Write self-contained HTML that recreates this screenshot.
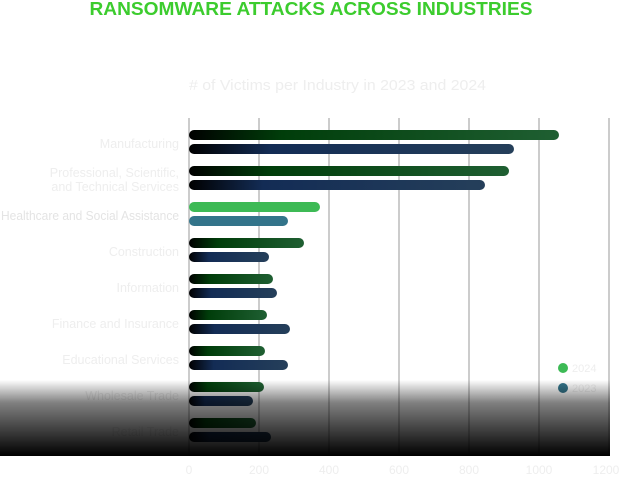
<!DOCTYPE html>
<html><head><style>
html,body{margin:0;padding:0;background:#fff;}
svg{display:block;font-family:"Liberation Sans",sans-serif;}
</style></head><body>
<svg width="622" height="477" viewBox="0 0 622 477">
<defs>
<linearGradient id="g" x1="0" x2="1" y1="0" y2="0">
<stop offset="0" stop-color="#000"/><stop offset="0.25" stop-color="#003d0a"/><stop offset="1" stop-color="#1f5f32"/>
</linearGradient>
<linearGradient id="b" x1="0" x2="1" y1="0" y2="0">
<stop offset="0" stop-color="#000"/><stop offset="0.25" stop-color="#132c55"/><stop offset="1" stop-color="#253f5a"/>
</linearGradient>
<linearGradient id="fade" x1="0" x2="0" y1="0" y2="1">
<stop offset="0" stop-color="#000" stop-opacity="0"/><stop offset="0.3" stop-color="#000" stop-opacity="0.5"/><stop offset="1" stop-color="#000" stop-opacity="1"/>
</linearGradient>
</defs>
<text x="311" y="15" text-anchor="middle" font-size="18" font-weight="bold" fill="#3ccc2e" textLength="443" lengthAdjust="spacingAndGlyphs">RANSOMWARE ATTACKS ACROSS INDUSTRIES</text>
<text x="189" y="90" font-size="15" fill="#eeeeee" textLength="297" lengthAdjust="spacingAndGlyphs"># of Victims per Industry in 2023 and 2024</text>
<g stroke="#cccccc" stroke-width="2">
<line x1="189" y1="118" x2="189" y2="455"/>
<line x1="259" y1="118" x2="259" y2="455"/>
<line x1="329" y1="118" x2="329" y2="455"/>
<line x1="399" y1="118" x2="399" y2="455"/>
<line x1="469" y1="118" x2="469" y2="455"/>
<line x1="539" y1="118" x2="539" y2="455"/>
<line x1="609" y1="118" x2="609" y2="455"/>
<line x1="189" y1="455" x2="609" y2="455"/>
</g>
<g>
<rect x="189" y="130" width="370" height="10" rx="5" fill="url(#g)"/>
<rect x="189" y="144" width="325" height="10" rx="5" fill="url(#b)"/>
<rect x="189" y="166" width="320" height="10" rx="5" fill="url(#g)"/>
<rect x="189" y="180" width="296" height="10" rx="5" fill="url(#b)"/>
<rect x="189" y="202" width="131" height="10" rx="5" fill="#3dba55"/>
<rect x="189" y="216" width="99" height="10" rx="5" fill="#33748a"/>
<rect x="189" y="238" width="115" height="10" rx="5" fill="url(#g)"/>
<rect x="189" y="252" width="80" height="10" rx="5" fill="url(#b)"/>
<rect x="189" y="274" width="84" height="10" rx="5" fill="url(#g)"/>
<rect x="189" y="288" width="88" height="10" rx="5" fill="url(#b)"/>
<rect x="189" y="310" width="78" height="10" rx="5" fill="url(#g)"/>
<rect x="189" y="324" width="101" height="10" rx="5" fill="url(#b)"/>
<rect x="189" y="346" width="76" height="10" rx="5" fill="url(#g)"/>
<rect x="189" y="360" width="99" height="10" rx="5" fill="url(#b)"/>
<rect x="189" y="382" width="75" height="10" rx="5" fill="url(#g)"/>
<rect x="189" y="396" width="64" height="10" rx="5" fill="url(#b)"/>
<rect x="189" y="418" width="67" height="10" rx="5" fill="url(#g)"/>
<rect x="189" y="432" width="82" height="10" rx="5" fill="url(#b)"/>
</g>
<g font-size="12.5" fill="#eeeeee" text-anchor="end">
<text x="179" y="148">Manufacturing</text>
<text x="179" y="177">Professional, Scientific,</text>
<text x="179" y="191">and Technical Services</text>
<text x="179" y="220" fill="#e4e4e4" textLength="178" lengthAdjust="spacingAndGlyphs">Healthcare and Social Assistance</text>
<text x="179" y="256">Construction</text>
<text x="179" y="292">Information</text>
<text x="179" y="328">Finance and Insurance</text>
<text x="179" y="364">Educational Services</text>
<text x="179" y="400">Wholesale Trade</text>
<text x="179" y="436">Retail Trade</text>
</g>
<circle cx="563" cy="368" r="5" fill="#3dba55"/>
<circle cx="563" cy="388" r="5" fill="#33748a"/>
<text x="572" y="372" font-size="11" fill="#eeeeee">2024</text>
<text x="572" y="392" font-size="11" fill="#eeeeee">2023</text>
<rect x="0" y="380" width="610" height="76" fill="url(#fade)"/>
<g font-size="12" fill="#eeeeee" text-anchor="middle">
<text x="189" y="474">0</text><text x="259" y="474">200</text><text x="329" y="474">400</text>
<text x="399" y="474">600</text><text x="469" y="474">800</text><text x="539" y="474">1000</text><text x="606" y="474">1200</text>
</g>
</svg>
</body></html>
